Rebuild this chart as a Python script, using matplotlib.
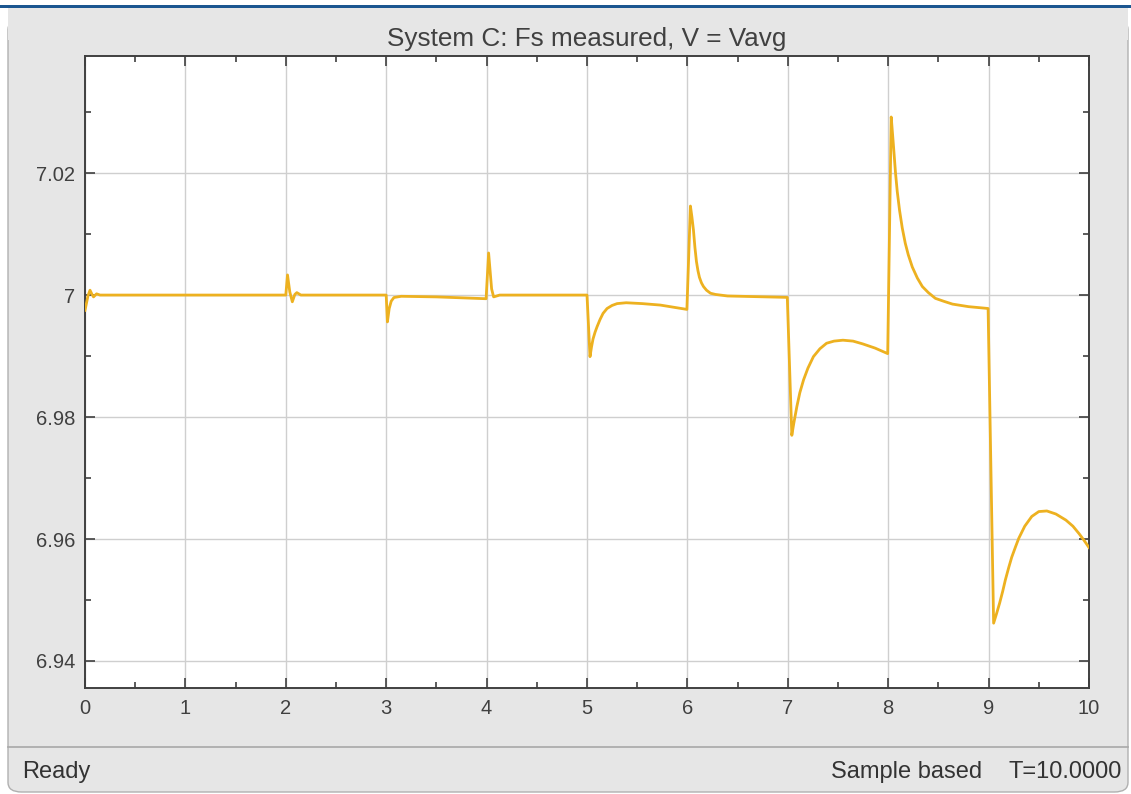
import matplotlib
matplotlib.use("Agg")
import matplotlib.pyplot as plt
from matplotlib.patches import Rectangle, FancyBboxPatch
from matplotlib.lines import Line2D
from matplotlib.ticker import MultipleLocator, FuncFormatter

# ---------------- data ----------------
t = [0.000, 0.030, 0.050, 0.070, 0.085, 0.115, 0.150,
     2.000, 2.017, 2.040, 2.065, 2.090, 2.110, 2.150,
     3.000, 3.012, 3.030, 3.050, 3.077, 3.150, 3.500, 3.995,
     4.020, 4.050, 4.070, 4.130,
     5.000, 5.030, 5.045, 5.060, 5.080, 5.100, 5.130, 5.160, 5.200, 5.250, 5.300,
     5.390, 5.550, 5.730, 5.995,
     6.030, 6.045, 6.060, 6.075, 6.090, 6.105, 6.120, 6.140, 6.160, 6.190, 6.230,
     6.280, 6.400, 6.995,
     7.040, 7.060, 7.090, 7.120, 7.157, 7.200, 7.255, 7.320, 7.386, 7.460, 7.549,
     7.650, 7.745, 7.870, 7.995,
     8.030, 8.050, 8.073, 8.090, 8.113, 8.140, 8.170, 8.200, 8.240, 8.290, 8.340,
     8.400, 8.470, 8.550, 8.640, 8.800, 8.995,
     9.050, 9.080, 9.110, 9.140, 9.167, 9.200, 9.230, 9.270, 9.300, 9.360, 9.430,
     9.500, 9.580, 9.670, 9.770, 9.840, 9.900, 9.950, 10.000]
fs = [6.9975, 6.9999, 7.0008, 7.0001, 6.9997, 7.0002, 7.0000,
      7.0000, 7.0033, 7.0005, 6.9989, 7.0001, 7.0004, 7.0000,
      7.0000, 6.9956, 6.9978, 6.9990, 6.9996, 6.9998, 6.9997, 6.9994,
      7.0069, 7.0010, 6.9997, 7.0000,
      7.0000, 6.9899, 6.9915, 6.9928, 6.9939, 6.9948, 6.9960, 6.9970, 6.9978, 6.9983, 6.9986,
      6.99874, 6.9986, 6.99836, 6.99765,
      7.0146, 7.0128, 7.0107, 7.0078, 7.0055, 7.0040, 7.0029, 7.0020, 7.0014, 7.0008, 7.0003,
      7.0001, 6.99985, 6.99962,
      6.9770, 6.9790, 6.9817, 6.9840, 6.9861, 6.9880, 6.9899, 6.9912, 6.9921, 6.99245, 6.9926,
      6.99245, 6.9920, 6.9913, 6.9904,
      7.0292, 7.0250, 7.0200, 7.0170, 7.0139, 7.0110, 7.0085, 7.0066, 7.0046, 7.0028, 7.0014,
      7.0004, 6.99946, 6.9990, 6.99852, 6.9981, 6.9978,
      6.9462, 6.9478, 6.9495, 6.9514, 6.9533, 6.9553, 6.9570, 6.9588, 6.9601, 6.9621, 6.9637,
      6.9645, 6.9646, 6.9641, 6.9631, 6.9621, 6.9609, 6.9598, 6.9586]

x_ticks = list(range(0, 11))
y_ticks = [6.94, 6.96, 6.98, 7.00, 7.02]
title = "System C: Fs measured, V = Vavg"
status_left = "Ready"
status_mid = "Sample based"
status_right = "T=10.0000"

# ---------------- figure ----------------
W, H = 1131, 794
plt.rcParams['font.family'] = ['Liberation Sans', 'DejaVu Sans']
fig = plt.figure(figsize=(W / 100, H / 100), dpi=100, facecolor='white')

def fx(x):
    return x / W

def fy(y):
    return 1 - y / H

# window body (rounded bottom corners)
body = FancyBboxPatch((fx(8), fy(792)), fx(1128) - fx(8), fy(20) - fy(792),
                      boxstyle="round,pad=0,rounding_size=0.012",
                      transform=fig.transFigure, facecolor='#e6e6e6',
                      edgecolor='#b0b0b0', linewidth=1.0, zorder=-3)
fig.patches.append(body)
fig.patches.append(Rectangle((fx(8), fy(40)), fx(1128) - fx(8), fy(6) - fy(40),
                             transform=fig.transFigure, facecolor='#e6e6e6',
                             edgecolor='none', zorder=-2))
# top blue bar
fig.patches.append(Rectangle((0, fy(7.5)), 1, fy(5) - fy(7.5),
                             transform=fig.transFigure, facecolor='#1b5690',
                             edgecolor='none', zorder=-1))
# status bar separator
fig.lines.append(Line2D([fx(8), fx(1128)], [fy(747), fy(747)],
                        transform=fig.transFigure, color='#a8a8a8', lw=1.2, zorder=-1))

# ---------------- axes ----------------
ax = fig.add_axes([fx(85), fy(688), fx(1089) - fx(85), fy(56) - fy(688)])
ax.set_zorder(2)
ax.set_facecolor('white')
ax.plot(t, fs, color='#EDB120', lw=2.0, solid_joinstyle='round', zorder=3)

ax.set_xlim(0, 10)
ax.set_ylim(6.93557, 7.0392)
ax.set_xticks(x_ticks)
ax.set_yticks(y_ticks)
ax.xaxis.set_minor_locator(MultipleLocator(0.5))
ax.yaxis.set_minor_locator(MultipleLocator(0.01))
ax.yaxis.set_major_formatter(FuncFormatter(lambda v, p: f"{v:g}"))
ax.xaxis.set_major_formatter(FuncFormatter(lambda v, p: f"{v:g}"))

ax.grid(True, which='major', color='#cfcfcf', lw=1.0, zorder=0)
ax.set_axisbelow(True)
for s in ax.spines.values():
    s.set_color('#404040')
    s.set_linewidth(1.4)
ax.tick_params(which='both', direction='in', top=True, right=True,
               colors='#404040', labelcolor='#404040')
ax.tick_params(which='major', length=7, width=1.2, labelsize=14.5)
ax.tick_params(which='minor', length=4.3, width=1.2)
ax.tick_params(axis='y', which='major', pad=7)
ax.tick_params(axis='x', which='major', pad=8)

fig.text(fx(587), fy(46), title, ha='center', va='baseline',
         fontsize=18.8, color='#404040')

fig.text(fx(22.5), fy(778), status_left, ha='left', va='baseline',
         fontsize=17, color='#333333')
fig.text(fx(982), fy(778), status_mid, ha='right', va='baseline',
         fontsize=17, color='#333333')
fig.text(fx(1122), fy(778), status_right, ha='right', va='baseline',
         fontsize=17, color='#333333')

fig.savefig("out.png", dpi=100, facecolor=fig.get_facecolor())
